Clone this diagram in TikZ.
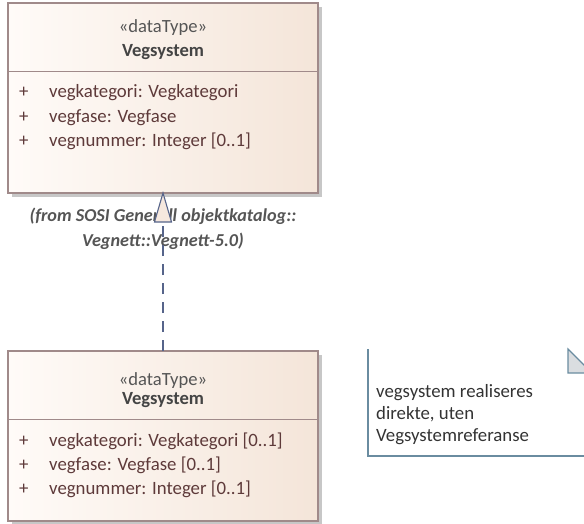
\documentclass[tikz,border=0pt]{standalone}
\usepackage{fontspec}
\setmainfont{Carlito}
\usetikzlibrary{shadows}
\definecolor{boxline}{HTML}{A08A8A}
\definecolor{boxleft}{HTML}{FFFBF8}
\definecolor{boxright}{HTML}{F4E5D9}
\definecolor{attrtext}{HTML}{5E3A3A}
\definecolor{titletext}{HTML}{444444}
\definecolor{stereotext}{HTML}{555555}
\definecolor{realline}{HTML}{56648A}
\definecolor{noteline}{HTML}{6A8CA0}
\definecolor{notefold}{HTML}{DADDE0}
\begin{document}
\begin{tikzpicture}[x=1pt,y=-1pt,
  classbox/.style={draw=boxline, line width=1.3pt, left color=boxleft, right color=boxright,
    anchor=north west, inner sep=0pt, outer sep=0pt,
    general shadow={fill=black!22, shadow xshift=4pt, shadow yshift=-4pt}},
  stereo/.style={font=\fontsize{18.6}{22}\selectfont, text=stereotext, anchor=base},
  title/.style={font=\fontsize{18.6}{22}\selectfont\bfseries, text=titletext, anchor=base},
  attr/.style={font=\fontsize{18.8}{22}\selectfont, text=attrtext, anchor=base west, inner sep=0pt},
  fromlabel/.style={font=\fontsize{18.2}{22}\selectfont\bfseries\itshape, text=stereotext, anchor=base},
  notetext/.style={font=\fontsize{18.8}{22}\selectfont, text=black!80, anchor=base west, inner sep=0pt},
  realize/.style={draw=realline, line width=1.1pt},
]
\useasboundingbox (0,0) rectangle (584,524);

% upper data type
\node[classbox, minimum width=310pt, minimum height=190pt] (upper) at (8,3) {};
\draw[boxline, line width=1pt] (8,72) -- (318,72);
\node[stereo] (upperstereo) at (163,33) {«dataType»};
\node[title] (uppertitle) at (163,57) {Vegsystem};
\node[attr] (ua1p) at (19,98) {+};
\node[attr] (ua1) at (49,98) {vegkategori: Vegkategori};
\node[attr] (ua2p) at (19,122.5) {+};
\node[attr] (ua2) at (49,122.5) {vegfase: Vegfase};
\node[attr] (ua3p) at (19,147) {+};
\node[attr] (ua3) at (49,147) {vegnummer: Integer [0..1]};

% package path of the upper type
\node[fromlabel] (from1) at (163,222) {(from SOSI Generell objektkatalog::};
\node[fromlabel] (from2) at (163,246) {Vegnett::Vegnett-5.0)};

% lower data type
\node[classbox, minimum width=310pt, minimum height=170pt] (lower) at (8,351) {};
\draw[boxline, line width=1pt] (8,419) -- (318,419);
\node[stereo] (lowerstereo) at (163,385) {«dataType»};
\node[title] (lowertitle) at (163,404) {Vegsystem};
\node[attr] (la1p) at (19,446) {+};
\node[attr] (la1) at (49,446) {vegkategori: Vegkategori [0..1]};
\node[attr] (la2p) at (19,470) {+};
\node[attr] (la2) at (49,470) {vegfase: Vegfase [0..1]};
\node[attr] (la3p) at (19,494.5) {+};
\node[attr] (la3) at (49,494.5) {vegnummer: Integer [0..1]};

% realization: dashed line with hollow triangle head
\coordinate (tipbase) at (163,222);
\draw[realize, dash pattern=on 11pt off 8pt] (lower.north) -- (tipbase);
\filldraw[realize, fill=boxright!85!boxleft, line join=miter]
  (upper.south) -- (154.5,222) -- (171.5,222) -- cycle;

% note
\draw[noteline, line width=1.2pt] (368,349) -- (368,456) -- (584,456);
\filldraw[noteline, fill=notefold, line width=1.2pt] (568,349) -- (568,373) -- (592,373) -- cycle;
\node[notetext] (note1) at (376,397) {vegsystem realiseres};
\node[notetext] (note2) at (376,419) {direkte, uten};
\node[notetext] (note3) at (376,441) {Vegsystemreferanse};
\end{tikzpicture}
\end{document}
